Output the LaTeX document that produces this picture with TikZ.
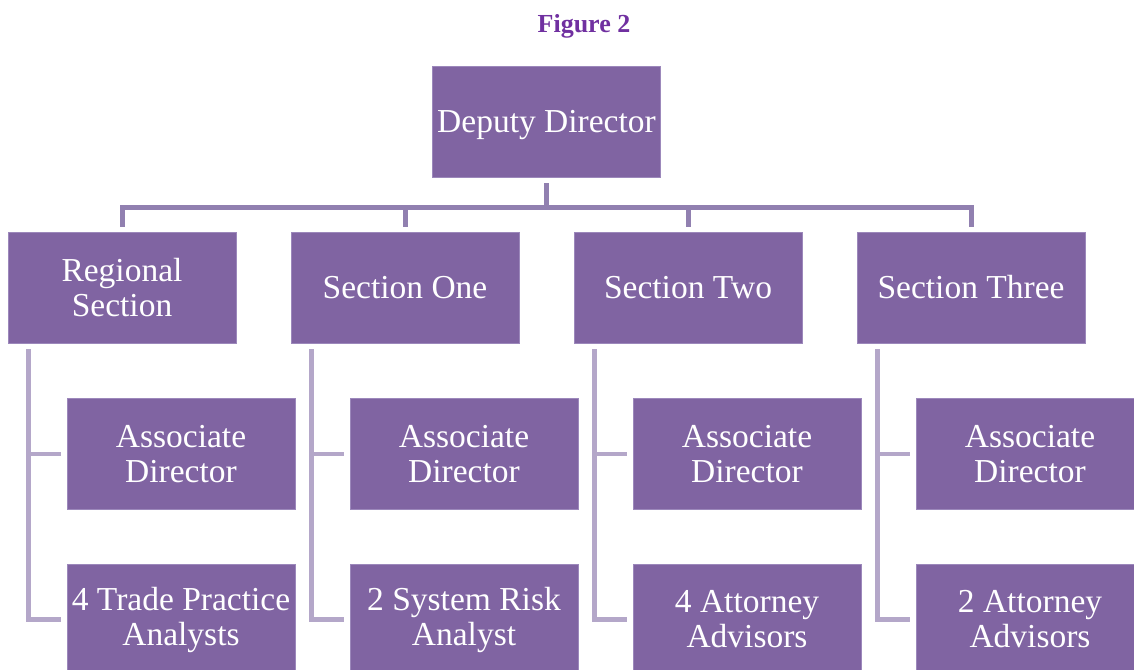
\documentclass[tikz,border=0pt]{standalone}
\usepackage{fontspec}
\setmainfont{Liberation Serif}
\definecolor{boxfill}{HTML}{8064A2}
\definecolor{boxedge}{HTML}{9C88BB}
\definecolor{toplink}{HTML}{9180B0}
\definecolor{lowlink}{HTML}{B4A7C9}
\definecolor{titlepurple}{HTML}{7030A0}
\begin{document}
\begin{tikzpicture}[x=1pt,y=-1pt,
  orgbox/.style={fill=boxfill,draw=boxedge,line width=0.8pt,text=white,
    minimum width=228pt,minimum height=111pt,inner sep=0pt,align=center,
    font=\fontsize{33.5}{35}\selectfont},
  toplinkstyle/.style={draw=toplink,line width=5pt},
  lowlinkstyle/.style={draw=lowlink,line width=4.5pt}]
\useasboundingbox (0,0) rectangle (1134,669);
\clip (0,0) rectangle (1134,669);

% title
\node[font=\bfseries\fontsize{26}{28}\selectfont,text=titlepurple] (title) at (584,26) {Figure 2};

% top level
\node[orgbox,text depth=0pt] (dd) at (546.5,121.5) {Deputy Director};

% sections
\node[orgbox] (rs) at (122,287.5) {Regional\\Section};
\node[orgbox] (s1) at (405,287.5) {Section One};
\node[orgbox] (s2) at (688,287.5) {Section Two};
\node[orgbox] (s3) at (971,287.5) {Section Three};

% staff under each section
\node[orgbox] (ra) at (181,454) {Associate\\Director};
\node[orgbox] (rb) at (181,619.5) {4 Trade Practice\\Analysts};
\node[orgbox] (oa) at (464,454) {Associate\\Director};
\node[orgbox] (ob) at (464,619.5) {2 System Risk\\Analyst};
\node[orgbox] (ta) at (747,454) {Associate\\Director};
\node[orgbox] (tb) at (747,619.5) {4 Attorney\\Advisors};
\node[orgbox] (ha) at (1030,454) {Associate\\Director};
\node[orgbox] (hb) at (1030,619.5) {2 Attorney\\Advisors};

% deputy director to sections
\coordinate (hub) at (546.5,207);
\draw[toplinkstyle,shorten <=6pt] (dd.south) -- (hub);
\foreach \s in {rs,s1,s2,s3}
  \draw[toplinkstyle,shorten >=5pt] (hub) -| (\s.north);

% sections to their staff
\foreach \s/\a/\b in {rs/ra/rb, s1/oa/ob, s2/ta/tb, s3/ha/hb}{
  \coordinate (\s-spine) at ([xshift=21pt,yshift=-6pt]\s.south west);
  \draw[lowlinkstyle] (\s-spine) |- ([xshift=-6pt]\a.west);
  \draw[lowlinkstyle] (\s-spine) |- ([xshift=-6pt]\b.west);
}
\end{tikzpicture}
\end{document}
